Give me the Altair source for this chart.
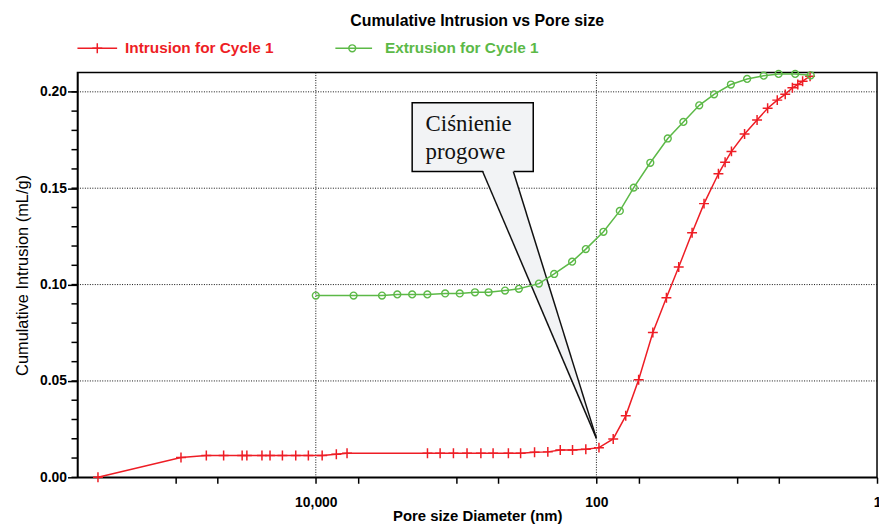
import altair as alt
import pandas as pd

# ---- data ----
intr_d = [357000, 91400, 60300, 45400, 33500, 31000, 24200, 21200, 17300, 13900, 11300, 9010,
          7140, 5990, 1600, 1300, 1045, 836, 666, 545, 424, 347, 276, 222, 181, 148, 119,
          95.9, 75.9, 61.8, 50.0, 39.6, 31.7, 25.9, 20.8, 17.1, 13.5, 12.1, 10.9, 8.79, 7.16,
          6.02, 5.14, 4.51, 4.01, 3.67, 3.39, 3.00]
intr_v = [0.0, 0.0103, 0.0113, 0.0113, 0.0113, 0.0113, 0.0113, 0.0113, 0.0113, 0.0113, 0.0113,
          0.0113, 0.0120, 0.0125, 0.0125, 0.0125, 0.0125, 0.0125, 0.0125, 0.0125, 0.0125, 0.0125,
          0.0130, 0.0132, 0.0142, 0.0142, 0.0146, 0.0154, 0.0199, 0.0319, 0.0506, 0.0751, 0.0932,
          0.1091, 0.1269, 0.1420, 0.1575, 0.1635, 0.1691, 0.1781, 0.1854, 0.1915, 0.1957, 0.1987,
          0.2021, 0.2038, 0.2055, 0.2081]

extr_d = [10000, 5380, 3375, 2625, 2057, 1603, 1197, 942, 734, 587, 448, 357, 257, 200, 149, 119,
          89.1, 68.1, 54.2, 41.3, 31.0, 24.0, 18.5, 14.5, 11.0, 8.43, 6.42, 5.03, 3.83, 2.97]
extr_v = [0.0943, 0.0943, 0.0943, 0.0949, 0.0949, 0.0949, 0.0954, 0.0954, 0.0960, 0.0960, 0.0969,
          0.0978, 0.1005, 0.1055, 0.1119, 0.1184, 0.1274, 0.1382, 0.1503, 0.1632, 0.1758, 0.1844,
          0.1930, 0.1987, 0.2038, 0.2067, 0.2084, 0.2093, 0.2093, 0.2086]

x_ticks = [100000, 50000, 10000, 5000, 1000, 500, 100, 50, 10, 5, 1]
x_grid = [10000, 100]
y_major = [0.0, 0.05, 0.10, 0.15, 0.20]
y_minor = [round(0.01 * i, 2) for i in range(21)]

title_text = "Cumulative Intrusion vs Pore size"
series_names = ["Intrusion for Cycle 1", "Extrusion for Cycle 1"]
x_title = "Pore size Diameter (nm)"
y_title = "Cumulative Intrusion (mL/g)"

callout_lines = ["Ciśnienie", "progowe"]
callout_box = {"D": [2057], "D2": [282], "v": [0.1943], "v2": [0.1587]}
callout_base = {"left": 647, "right": 391, "v": 0.1587}
callout_tip = {"D": 100, "v": 0.0202}
callout_text_pos = {"D": [1650, 1650], "v": [0.1795, 0.1652]}

RED = "#ee1d25"
GREEN = "#5cb947"
SANS = "Liberation Sans"
SERIF = "Liberation Serif"

# ---- scales / axes ----
xscale = alt.Scale(type="log", domain=[1, 500000], reverse=True, nice=False)
yscale = alt.Scale(domain=[0, 0.21], nice=False, zero=False)

xaxis = alt.Axis(
    values=x_ticks,
    labelExpr="datum.value == 10000 ? '10,000' : (datum.value == 100 ? '100' : (datum.value == 1 ? '1' : ''))",
    grid=False, tickSize=6, tickWidth=1.5, domainWidth=1.5, labelPadding=12,
    labelFontSize=14, labelFontWeight="bold", labelFlush=False, labelOverlap=False,
    title=x_title, titleFontSize=15, titleFontWeight="bold", titlePadding=0,
)
yaxis = alt.Axis(
    values=y_major, format=".2f", grid=False, tickSize=10, tickWidth=1.5, domainWidth=1.5,
    labelPadding=1, labelFontSize=14, labelFontWeight="bold", labelOverlap=False,
    title=y_title, titleFontSize=16.5, titleFontWeight="normal", titlePadding=9,
)

X = alt.X("D:Q", scale=xscale, axis=xaxis)
Y = alt.Y("v:Q", scale=yscale, axis=yaxis)

intr = pd.DataFrame({"D": intr_d, "v": intr_v, "i": range(len(intr_d))})
extr = pd.DataFrame({"D": extr_d, "v": extr_v, "i": range(len(extr_d))})

# ---- grid ----
gx = alt.Chart(pd.DataFrame({"D": x_grid})).mark_rule(
    color="#111", strokeWidth=1, strokeDash=[1, 1.5]).encode(x=X)
gy = alt.Chart(pd.DataFrame({"v": y_major[1:]})).mark_rule(
    color="#111", strokeWidth=1, strokeDash=[1, 1.5]).encode(y=Y)

minor = alt.Chart(pd.DataFrame({"v": y_minor})).mark_rule(
    color="black", strokeWidth=1.5).encode(y=Y, x=alt.value(-6), x2=alt.value(0))

# ---- callout ----
box = alt.Chart(pd.DataFrame(callout_box)).mark_rect(
    fill="#f2f3f5", stroke="black", strokeWidth=1.5).encode(x=X, x2="D2:Q", y=Y, y2="v2:Q")

wedge_df = pd.DataFrame({
    "v": [callout_base["v"] + 0.001, callout_tip["v"]],
    "D": [callout_base["left"], callout_tip["D"]],
    "D2": [callout_base["right"], callout_tip["D"]],
})
wedge = alt.Chart(wedge_df).mark_area(orient="horizontal", color="#f2f3f5").encode(
    y=Y, x=X, x2="D2:Q")

sides_df = pd.DataFrame({
    "D": [callout_base["left"], callout_tip["D"], callout_base["right"], callout_tip["D"]],
    "v": [callout_base["v"], callout_tip["v"], callout_base["v"], callout_tip["v"]],
    "side": ["a", "a", "b", "b"],
    "o": [0, 1, 0, 1],
})
sides = alt.Chart(sides_df).mark_line(color="#111", strokeWidth=1.5).encode(
    x=X, y=Y, detail="side:N", order="o:Q")

ctext = alt.Chart(pd.DataFrame({"D": callout_text_pos["D"], "v": callout_text_pos["v"],
                                "t": callout_lines})).mark_text(
    font=SERIF, fontSize=23, align="left", baseline="alphabetic", color="#111").encode(
    x=X, y=Y, text="t:N")

# ---- series ----
plus = "M-1,0L1,0M0,-1L0,1"
intr_line = alt.Chart(intr).mark_line(color=RED, strokeWidth=1.5).encode(x=X, y=Y, order="i:Q")
intr_pts = alt.Chart(intr).mark_point(shape=plus, size=100, color=RED, strokeWidth=1.5,
                                      filled=False, opacity=1).encode(x=X, y=Y)
extr_line = alt.Chart(extr).mark_line(color=GREEN, strokeWidth=1.5).encode(x=X, y=Y, order="i:Q")
extr_pts = alt.Chart(extr).mark_point(shape="circle", size=48, color=GREEN, strokeWidth=1.4,
                                      filled=False, opacity=1).encode(x=X, y=Y)

# ---- legend & title (annotations) ----
one = pd.DataFrame({"k": [0]})
leg_y = -24.5
leg = [
    alt.Chart(one).mark_rule(color=RED, strokeWidth=1.5).encode(
        x=alt.value(0), x2=alt.value(40), y=alt.value(leg_y)),
    alt.Chart(one).mark_point(shape=plus, size=100, color=RED, strokeWidth=1.5, opacity=1).encode(
        x=alt.value(20), y=alt.value(leg_y)),
    alt.Chart(pd.DataFrame({"t": [series_names[0]]})).mark_text(
        font=SANS, fontSize=15.5, fontWeight="bold", color=RED, align="left", baseline="middle").encode(
        x=alt.value(48), y=alt.value(leg_y), text="t:N"),
    alt.Chart(one).mark_rule(color=GREEN, strokeWidth=1.5).encode(
        x=alt.value(260), x2=alt.value(297), y=alt.value(leg_y)),
    alt.Chart(one).mark_point(shape="circle", size=48, color=GREEN, strokeWidth=1.4, filled=False,
                              opacity=1).encode(x=alt.value(277), y=alt.value(leg_y)),
    alt.Chart(pd.DataFrame({"t": [series_names[1]]})).mark_text(
        font=SANS, fontSize=15.5, fontWeight="bold", color=GREEN, align="left", baseline="middle").encode(
        x=alt.value(310), y=alt.value(leg_y), text="t:N"),
]
title = alt.Chart(pd.DataFrame({"t": [title_text]})).mark_text(
    font=SANS, fontSize=16, fontWeight="bold", color="black", align="center", baseline="middle").encode(
    x=alt.value(403), y=alt.value(-51.5), text="t:N")

chart = alt.layer(
    gx, gy, minor, box, wedge, sides, ctext,
    intr_line, intr_pts, extr_line, extr_pts, *leg, title
).properties(
    width=806, height=408,
    padding={"left": 70, "top": 63, "right": 2, "bottom": 48},
    autosize=alt.AutoSizeParams(type="none"),
    background="white",
).configure_view(
    stroke="black", strokeWidth=1.5
).configure_axis(
    domainColor="black", tickColor="black", labelColor="black", titleColor="black",
    labelFont=SANS, titleFont=SANS,
)

chart.save("out.html", embed_options={"renderer": "svg", "actions": False})
